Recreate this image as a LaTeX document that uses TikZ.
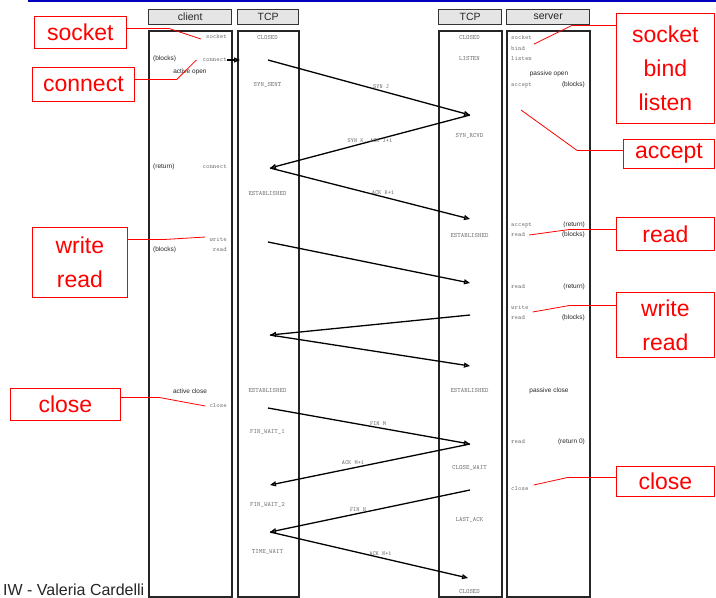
\documentclass[tikz,border=0pt]{standalone}
\usepackage{fontspec}
\newfontfamily\arialf{Liberation Sans}
\usetikzlibrary{arrows.meta}
\begin{document}
\begin{tikzpicture}[x=1pt,y=-1pt,
  hdr/.style={draw=black!80, line width=1.4pt, fill=black!10, minimum height=15pt, inner sep=0, anchor=north west, font=\arialf\fontsize{10.5}{11}\selectfont, text=black!85},
  colbox/.style={draw=black!85, line width=1.5pt, fill=white, minimum height=566pt, inner sep=0, anchor=north west},
  redbox/.style={draw=red, line width=0.8pt, fill=white, text=red, font=\arialf\fontsize{23}{34}\selectfont, align=center, inner sep=0, anchor=north west},
  pointer/.style={red, line width=0.8pt},
  st/.style={font=\ttfamily\fontsize{6.5}{7}\selectfont, text=black!55, inner sep=0},
  sm/.style={font=\arialf\fontsize{6.5}{7}\selectfont, text=black!85, inner sep=0},
  msg/.style={line width=1.3pt, -{Triangle[open, length=6pt, width=5pt]}},
  lab/.style={font=\ttfamily\fontsize{6}{7}\selectfont, text=black!60, inner sep=0}]
\useasboundingbox (0,0) rectangle (716,598);
\fill[white] (0,0) rectangle (716,598);
% top rule
\coordinate (topL) at (28,1);
\coordinate (topR) at (716,1);
\draw[blue!75!black, line width=1.5pt] (topL) -- (topR);
% footer
\node[font=\arialf\fontsize{16}{18}\selectfont, text=black!85, anchor=base west, inner sep=0] (footer) at (3,595) {IW - Valeria Cardelli};
% headers
\node[hdr, minimum width=83pt] (hclient) at (148,9) {client};
\node[hdr, minimum width=61pt] (htcpL) at (237,9) {TCP};
\node[hdr, minimum width=63pt] (htcpR) at (438,9) {TCP};
\node[hdr, minimum width=83pt] (hserver) at (506,9) {server};
% column bodies
\node[colbox, minimum width=83pt] (bclient) at (148,30) {};
\node[colbox, minimum width=61pt] (btcpL) at (237,30) {};
\node[colbox, minimum width=63pt] (btcpR) at (438,30) {};
\node[colbox, minimum width=83pt] (bserver) at (506,30) {};
% client column texts
\node[st, anchor=east] (c1) at (227,37) {socket};
\node[sm, anchor=west] (c2) at (153,59) {(blocks)};
\node[st, anchor=east] (c3) at (227,60) {connect};
\node[sm] (c4) at (190,72) {active open};
\node[sm, anchor=west] (c5) at (153,167) {(return)};
\node[st, anchor=east] (c6) at (227,167) {connect};
\node[st, anchor=east] (c7) at (227,240) {write};
\node[sm, anchor=west] (c8) at (153,250) {(blocks)};
\node[st, anchor=east] (c9) at (227,250) {read};
\node[sm] (c10) at (190,391) {active close};
\node[st, anchor=east] (c11) at (227,406) {close};
% left TCP states
\node[st] (l1) at (267.5,38) {CLOSED};
\node[st] (l2) at (267.5,85) {SYN\_SENT};
\node[st] (l3) at (267.5,193) {ESTABLISHED};
\node[st] (l4) at (267.5,390) {ESTABLISHED};
\node[st] (l5) at (267.5,432) {FIN\_WAIT\_1};
\node[st] (l6) at (267.5,505) {FIN\_WAIT\_2};
\node[st] (l7) at (267.5,552) {TIME\_WAIT};
% right TCP states
\node[st] (r1) at (469.5,38) {CLOSED};
\node[st] (r2) at (469.5,59) {LISTEN};
\node[st] (r3) at (469.5,136) {SYN\_RCVD};
\node[st] (r4) at (469.5,235) {ESTABLISHED};
\node[st] (r5) at (469.5,390) {ESTABLISHED};
\node[st] (r6) at (469.5,468) {CLOSE\_WAIT};
\node[st] (r7) at (469.5,520) {LAST\_ACK};
\node[st] (r8) at (469.5,592) {CLOSED};
% server column texts
\node[st, anchor=west] (s1) at (511,38) {socket};
\node[st, anchor=west] (s2) at (511,48.5) {bind};
\node[st, anchor=west] (s3) at (511,59) {listen};
\node[sm] (s4) at (549,74) {passive open};
\node[st, anchor=west] (s5) at (511,85) {accept};
\node[sm, anchor=east] (s6) at (585,85) {(blocks)};
\node[st, anchor=west] (s7) at (511,225) {accept};
\node[sm, anchor=east] (s8) at (585,225) {(return)};
\node[st, anchor=west] (s9) at (511,235) {read};
\node[sm, anchor=east] (s10) at (585,235) {(blocks)};
\node[st, anchor=west] (s11) at (511,287) {read};
\node[sm, anchor=east] (s12) at (585,287) {(return)};
\node[st, anchor=west] (s13) at (511,308) {write};
\node[st, anchor=west] (s14) at (511,318) {read};
\node[sm, anchor=east] (s15) at (585,318) {(blocks)};
\node[sm] (s16) at (549,391) {passive close};
\node[st, anchor=west] (s17) at (511,442) {read};
\node[sm, anchor=east] (s18) at (585,442) {(return 0)};
\node[st, anchor=west] (s19) at (511,489) {close};
% message endpoints
\coordinate (p0) at (240,60);
\coordinate (p1) at (268,60);
\coordinate (q1) at (470,115);
\coordinate (p2) at (270,168);
\coordinate (q2) at (470,219);
\coordinate (p3) at (268,242);
\coordinate (q3) at (470,283);
\coordinate (q4) at (470,315);
\coordinate (p4) at (270,335);
\coordinate (q5) at (470,366);
\coordinate (p5) at (268,408);
\coordinate (q6) at (470,444);
\coordinate (p6) at (270,485);
\coordinate (q7) at (470,490);
\coordinate (p7) at (270,532);
\coordinate (q8) at (468,578);
% messages
\draw[msg] (c3.east) -- (p0);
\draw[msg] (p1) -- node[lab, pos=0.56, yshift=4pt] {SYN J} (q1);
\draw[msg] (q1) -- node[lab, pos=0.5] {SYN K, ACK J+1} (p2);
\draw[msg] (p2) -- node[lab, pos=0.565, yshift=4pt] {ACK K+1} (q2);
\draw[msg] (p3) -- (q3);
\draw[msg] (q4) -- (p4);
\draw[msg] (p4) -- (q5);
\draw[msg] (p5) -- node[lab, pos=0.545, yshift=4pt] {FIN M} (q6);
\draw[msg] (q6) -- node[lab, pos=0.585, yshift=5pt] {ACK M+1} (p6);
\draw[msg] (q7) -- node[lab, pos=0.56, yshift=3.5pt] {FIN N} (p7);
\draw[msg] (p7) -- node[lab, pos=0.558, yshift=4pt] {ACK N+1} (q8);
% red callouts, left
\node[redbox, minimum width=92pt, minimum height=32pt] (Lsocket) at (34,16) {socket};
\node[redbox, minimum width=102pt, minimum height=34pt] (Lconnect) at (32,67) {connect};
\node[redbox, minimum width=95pt, minimum height=70pt] (Lwr) at (32,227) {write\\read};
\node[redbox, minimum width=110pt, minimum height=32pt] (Lclose) at (10,388) {close};
% red callouts, right
\node[redbox, minimum width=98pt, minimum height=110pt] (Rsbl) at (616,13) {socket\\bind\\listen};
\node[redbox, minimum width=91pt, minimum height=29pt] (Raccept) at (623,139) {accept};
\node[redbox, minimum width=98pt, minimum height=33pt] (Rread) at (616,217) {read};
\node[redbox, minimum width=98pt, minimum height=65pt] (Rwr) at (616,292) {write\\read};
\node[redbox, minimum width=98pt, minimum height=30pt] (Rclose) at (616,466) {close};
% pointer ends
\coordinate (acctip) at (521,110);
% pointers
\draw[pointer] ([yshift=4pt]Lsocket.east) -- ++(42,0) -- ([xshift=-5pt,yshift=-2pt]c1.west);
\draw[pointer] ([yshift=5pt]Lconnect.east) -- ++(42,0) -- ([xshift=-6pt]c3.west);
\draw[pointer] ([yshift=23pt]Lwr.east) -- ++(38,0) -- ([xshift=-4pt,yshift=3pt]c7.west);
\draw[pointer] ([yshift=7pt]Lclose.east) -- ++(38,0) -- ([xshift=-4pt]c11.west);
\draw[pointer] ([yshift=43pt]Rsbl.west) -- ++(-44,0) -- ([xshift=2pt,yshift=-6pt]s1.east);
\draw[pointer] ([yshift=3.5pt]Raccept.west) -- ++(-46,0) -- (acctip);
\draw[pointer] ([yshift=4.5pt]Rread.west) -- ++(-46,0) -- ([xshift=4pt]s9.east);
\draw[pointer] ([yshift=19.5pt]Rwr.west) -- ++(-46,0) -- ([xshift=4pt,yshift=-4pt]s13.east);
\draw[pointer] ([yshift=4pt]Rclose.west) -- ++(-48,0) -- ([xshift=5pt,yshift=4pt]s19.east);
\end{tikzpicture}
\end{document}
